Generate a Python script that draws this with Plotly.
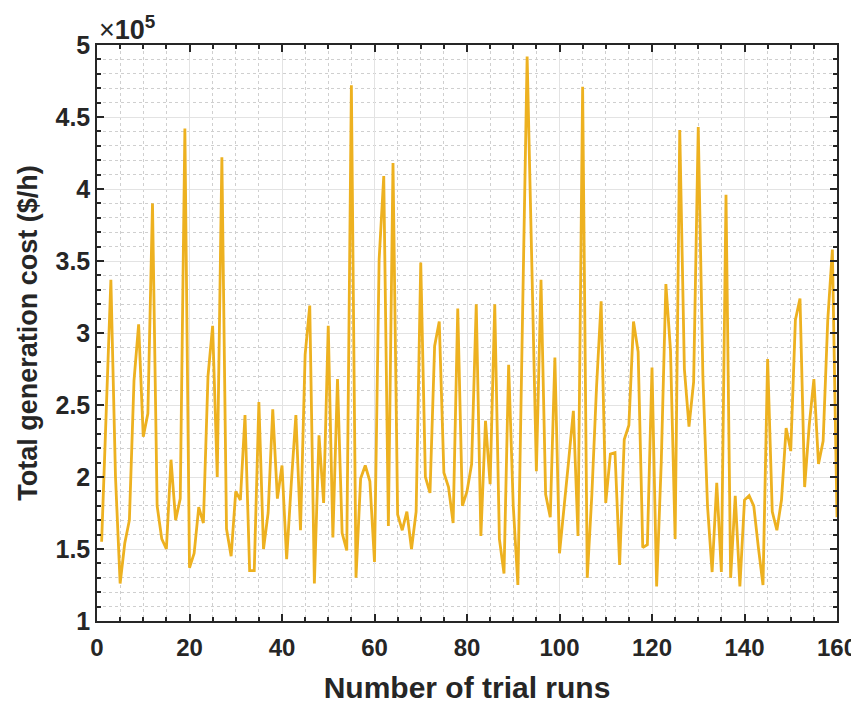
import plotly.graph_objects as go

runs = list(range(1, 161))
cost_1e5 = [
    1.55, 2.40, 3.37, 2.00, 1.26, 1.54, 1.70, 2.67, 3.06, 2.28,
    2.44, 3.90, 1.80, 1.57, 1.50, 2.12, 1.70, 1.85, 4.42, 1.37,
    1.47, 1.79, 1.68, 2.70, 3.05, 2.00, 4.22, 1.64, 1.45, 1.90,
    1.84, 2.43, 1.35, 1.35, 2.52, 1.50, 1.75, 2.47, 1.85, 2.08,
    1.43, 1.95, 2.43, 1.63, 2.85, 3.19, 1.26, 2.29, 1.82, 3.05,
    1.58, 2.68, 1.61, 1.49, 4.72, 1.30, 1.99, 2.08, 1.97, 1.41,
    3.51, 4.09, 1.66, 4.18, 1.74, 1.63, 1.76, 1.50, 1.76, 3.49,
    2.00, 1.89, 2.91, 3.08, 2.03, 1.93, 1.68, 3.17, 1.80, 1.90,
    2.09, 3.20, 1.59, 2.39, 1.95, 3.20, 1.57, 1.33, 2.78, 1.80,
    1.25, 3.10, 4.92, 3.50, 2.04, 3.37, 1.88, 1.72, 2.83, 1.47,
    1.78, 2.12, 2.46, 1.59, 4.71, 1.30, 1.88, 2.62, 3.22, 1.82,
    2.16, 2.17, 1.39, 2.26, 2.36, 3.08, 2.87, 1.51, 1.53, 2.76,
    1.24, 2.10, 3.34, 2.88, 1.57, 4.41, 2.75, 2.35, 2.66, 4.43,
    2.70, 1.80, 1.34, 1.96, 1.34, 3.96, 1.30, 1.87, 1.24, 1.84,
    1.87, 1.80, 1.51, 1.25, 2.82, 1.76, 1.63, 1.84, 2.34, 2.18,
    3.09, 3.24, 1.93, 2.36, 2.68, 2.09, 2.25, 3.09, 3.58, 1.72,
]

x_ticks = [0, 20, 40, 60, 80, 100, 120, 140, 160]
y_ticks = [1, 1.5, 2, 2.5, 3, 3.5, 4, 4.5, 5]
y_labels = ["1", "1.5", "2", "2.5", "3", "3.5", "4", "4.5", "5"]

FONT = "Liberation Sans, Arial, sans-serif"
AX = "#262626"

fig = go.Figure()
fig.add_trace(go.Scatter(
    x=runs, y=cost_1e5, mode="lines",
    line=dict(color="#EDB120", width=2.8),
    showlegend=False,
))

common = dict(
    showline=True, linecolor=AX, linewidth=1.5, mirror="allticks",
    ticks="inside", ticklen=7, tickwidth=1.5, tickcolor=AX,
    showgrid=True, gridcolor="#e3e3e3", gridwidth=1,
    zeroline=False, automargin=False, ticklabeloverflow="allow",
)

fig.update_xaxes(
    range=[0, 160], tickvals=x_ticks,
    tickfont=dict(family=FONT, size=24, color=AX, weight="bold"),
    ticklabelstandoff=4,
    minor=dict(ticks="inside", ticklen=4, tickcolor=AX, dtick=5, tick0=0,
               showgrid=True, gridcolor="#cfcfcf", griddash="dot", gridwidth=1),
    title=dict(text="Number of trial runs",
               font=dict(family=FONT, size=30, color=AX, weight="bold"), standoff=18),
    **common,
)
fig.update_yaxes(
    range=[1, 5], tickvals=y_ticks, ticktext=y_labels,
    tickfont=dict(family=FONT, size=25, color=AX, weight="bold"),
    minor=dict(ticks="inside", ticklen=4, tickcolor=AX, dtick=0.1, tick0=1,
               showgrid=True, gridcolor="#cfcfcf", griddash="dot", gridwidth=1),
    title=dict(text="Total generation cost ($/h)",
               font=dict(family=FONT, size=27, color=AX, weight="bold"), standoff=10),
    **common,
)

fig.add_annotation(
    x=0, y=1, xref="paper", yref="paper", xanchor="left", yanchor="bottom",
    text="×<b>10</b><sup><b>5</b></sup>", showarrow=False, yshift=-2, xshift=0,
    font=dict(family=FONT, size=27, color=AX),
)

fig.update_layout(
    width=851, height=696,
    margin=dict(l=89, r=22, t=37, b=83),
    plot_bgcolor="white", paper_bgcolor="white",
)

fig.write_html("out.html")
